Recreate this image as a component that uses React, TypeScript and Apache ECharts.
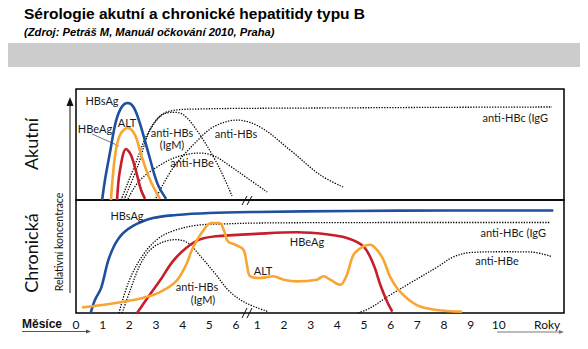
import React, { useEffect, useRef } from 'react';
import * as echarts from 'echarts';

// x positions: months 0..6 then years 1..10 (compressed scale after the break)
const tickPositions = [0, 1, 2, 3, 4, 5, 6, 6.8, 7.8, 8.8, 9.8, 10.8, 11.8, 12.8, 13.8, 14.8, 15.85, 17.67];
const tickLabels = ['0', '1', '2', '3', '4', '5', '6', '1', '2', '3', '4', '5', '6', '7', '8', '9', '10', 'Roky'];

// Acute hepatitis (top panel)
const acuteHBsAg = [[0.98, 0], [1.1, 20], [1.26, 41], [1.5, 71], [1.72, 84], [1.94, 87.4], [2.15, 84], [2.37, 71], [2.73, 41], [3.05, 15], [3.38, 1]];
const acuteALT = [[1.31, 0], [1.47, 41], [1.65, 58.6], [1.94, 65], [2.21, 58.6], [2.44, 41], [2.78, 18], [3.15, 1]];
const acuteHBeAg = [[1.54, 0], [1.65, 27], [1.88, 46], [2.06, 40.5], [2.25, 26], [2.44, 9], [2.59, 1]];
const acuteAntiHBcIgG = [[1.69, 0], [2.21, 31.5], [2.66, 58.6], [3.15, 75.7], [3.71, 81], [4.65, 82], [6, 82.5], [10, 83], [14, 83.5], [17.85, 83.8]];
const acuteAntiHBsIgM = [[1.8, 0], [2.33, 31.5], [2.78, 63], [3.34, 78], [3.71, 79], [4.09, 75.7], [4.65, 58.6], [5.22, 36], [5.59, 18], [5.85, 3.6]];
const acuteAntiHBe = [[1.95, 1], [2.4, 18], [3.26, 33], [3.9, 39.6], [4.65, 42.3], [5.18, 39.6], [5.78, 30.6], [6.42, 19.8], [7.17, 7.2]];
const acuteAntiHBs = [[3.0, 1.8], [3.64, 28.8], [4.65, 55.9], [5.22, 66.7], [6.04, 72], [6.9, 65.8], [8.03, 45], [9.16, 22.5], [10.02, 11.7]];

// Chronic hepatitis (bottom panel)
const chronicHBsAg = [[0.55, 0], [0.71, 11.5], [0.94, 22], [1.24, 48.7], [1.61, 66.4], [2.14, 77], [2.89, 84], [3.75, 86.7], [4.99, 88.5], [6.75, 89.4], [10.28, 90.3], [14.03, 90.7], [17.9, 90.7]];
const chronicALT = [[0.23, 5], [1.25, 8], [1.88, 10.4], [2.5, 13.3], [3.13, 18.3], [3.75, 28], [4.13, 42.7], [4.38, 57.5], [4.75, 72.3], [5.07, 79.6], [5.38, 79.6], [5.56, 72.3], [5.69, 63.5], [5.97, 60.4], [6.28, 56], [6.41, 42.7], [6.53, 32.5], [6.9, 31], [7.4, 32.5], [7.78, 29.5], [8.28, 28], [9.03, 29.5], [9.28, 32.5], [9.53, 29.5], [9.91, 25], [10.16, 33.9], [10.41, 51.6], [10.78, 59], [11.03, 60.4], [11.28, 56], [11.53, 47], [11.78, 32], [12.16, 18.6], [12.78, 7], [13.53, 2.7], [14.47, 1.2]];
const chronicHBeAg = [[2.29, 0], [2.7, 14], [3.13, 28], [3.63, 45.7], [4.13, 57.5], [4.63, 64.9], [5.25, 67.9], [6.75, 70], [8.28, 71.4], [9.53, 69.3], [10.16, 66.4], [10.78, 59], [11.16, 42.7], [11.41, 25], [11.66, 10.4], [11.86, 1.3]];
const chronicAntiHBcIgG = [[1.61, 0], [1.99, 28.3], [2.51, 51.3], [3.11, 66.4], [3.75, 73.5], [4.62, 77.9], [5.52, 78.8], [6.75, 79.6], [10, 80], [14, 80.1], [17.8, 80.1]];
const chronicAntiHBsIgM = [[1.73, 0], [2.03, 20], [2.4, 42.5], [2.78, 55.8], [3.26, 62.8], [3.75, 64.9], [4.2, 62], [4.62, 51.6], [5.25, 33.9], [5.74, 19.5], [6.38, 8.8], [7.2, 1.3]];
const chronicAntiHBe = [[10.58, 0], [11.03, 4.4], [11.78, 15.9], [12.53, 26.5], [13.55, 40.7], [14.15, 49.6], [14.78, 53.5], [16.02, 54.2], [17.04, 54], [17.86, 49.8]];

const BLUE = '#1f4f9e';
const ORANGE = '#f8a531';
const RED = '#c81e2a';
const FONT = 'Lato, "Noto Sans", sans-serif';
const ARIAL = '"Liberation Sans", Arial, sans-serif';

function lineSeries(data: number[][], color: string, grid: number, dotted: boolean) {
  return {
    type: 'line',
    data,
    xAxisIndex: grid,
    yAxisIndex: grid,
    smooth: 0.35,
    showSymbol: false,
    symbol: 'none',
    silent: true,
    lineStyle: dotted
      ? { color: '#000', width: 1.3, type: [1.3, 1.4] }
      : { color, width: 2.6 },
    z: dotted ? 2 : 3,
  };
}

function label(text: string, x: number, y: number, align = 'center', size = 11) {
  return {
    type: 'text',
    x,
    y,
    z: 10,
    style: { text, fontSize: size, fontFamily: FONT, fill: '#1a1a1a', align, verticalAlign: 'middle' },
  };
}

export default function App() {
  const ref = useRef<HTMLDivElement>(null);
  useEffect(() => {
    document.body.style.margin = '0';
    const chart = echarts.init(ref.current!, null, { renderer: 'svg' });
    const gridBase = { left: 76, width: 488, show: true, borderColor: '#000', borderWidth: 1.5, backgroundColor: 'transparent' };
    const option: any = {
      animation: false,
      backgroundColor: '#fff',
      grid: [
        { ...gridBase, top: 89, height: 111 },
        { ...gridBase, top: 200, height: 113 },
      ],
      xAxis: [
        { type: 'value', gridIndex: 0, min: 0, max: 18.3, show: false },
        {
          type: 'value', gridIndex: 1, min: 0, max: 18.3,
          axisLine: { show: false }, axisTick: { show: false }, splitLine: { show: false },
          axisLabel: {
            customValues: tickPositions,
            margin: 5,
            fontSize: 12,
            fontFamily: FONT,
            color: '#111',
            formatter: (v: number) => {
              const i = tickPositions.findIndex((t) => Math.abs(t - v) < 1e-6);
              return i >= 0 ? tickLabels[i] : '';
            },
          },
        },
      ],
      yAxis: [
        { type: 'value', gridIndex: 0, min: 0, max: 100, show: false },
        { type: 'value', gridIndex: 1, min: 0, max: 100, show: false },
      ],
      series: [
        lineSeries(acuteAntiHBcIgG, '', 0, true),
        lineSeries(acuteAntiHBsIgM, '', 0, true),
        lineSeries(acuteAntiHBe, '', 0, true),
        lineSeries(acuteAntiHBs, '', 0, true),
        lineSeries(acuteHBsAg, BLUE, 0, false),
        lineSeries(acuteALT, ORANGE, 0, false),
        lineSeries(acuteHBeAg, RED, 0, false),
        lineSeries(chronicAntiHBcIgG, '', 1, true),
        lineSeries(chronicAntiHBsIgM, '', 1, true),
        lineSeries(chronicAntiHBe, '', 1, true),
        lineSeries(chronicHBsAg, BLUE, 1, false),
        lineSeries(chronicHBeAg, RED, 1, false),
        lineSeries(chronicALT, ORANGE, 1, false),
      ],
      graphic: [
        { type: 'text', x: 24, y: 13, style: { text: 'Sérologie akutní a chronické hepatitidy typu B', fontSize: 15.5, fontWeight: 'bold', fontFamily: ARIAL, fill: '#000', align: 'left', verticalAlign: 'middle' } },
        { type: 'text', x: 24, y: 32, style: { text: '(Zdroj: Petráš M, Manuál očkování 2010, Praha)', fontSize: 11.2, fontWeight: 'bold', fontStyle: 'italic', fontFamily: ARIAL, fill: '#000', align: 'left', verticalAlign: 'middle' } },
        { type: 'rect', shape: { x: 8, y: 43, width: 572, height: 24 }, style: { fill: '#cccccc' } },
        // side titles
        { type: 'text', x: 31, y: 144, rotation: Math.PI / 2, style: { text: 'Akutní', fontSize: 18, fontFamily: FONT, fill: '#111', align: 'center', verticalAlign: 'middle' } },
        { type: 'text', x: 31, y: 253, rotation: Math.PI / 2, style: { text: 'Chronická', fontSize: 18, fontFamily: FONT, fill: '#111', align: 'center', verticalAlign: 'middle' } },
        { type: 'text', x: 59, y: 242, rotation: Math.PI / 2, style: { text: 'Relativní koncentrace', fontSize: 10.5, fontFamily: FONT, fill: '#111', align: 'center', verticalAlign: 'middle' } },
        // vertical arrow
        { type: 'line', shape: { x1: 70, y1: 293, x2: 70, y2: 104 }, style: { stroke: '#111', lineWidth: 1 } },
        { type: 'polygon', shape: { points: [[66.5, 106], [70, 97], [73.5, 106]] }, style: { fill: '#111' } },
        // x axis captions
        { type: 'text', x: 22, y: 324, style: { text: 'Měsíce', fontSize: 12, fontWeight: 'bold', fontFamily: ARIAL, fill: '#111', align: 'left', verticalAlign: 'middle' } },
        { type: 'line', shape: { x1: 22, y1: 331.5, x2: 89, y2: 331.5 }, style: { stroke: '#555', lineWidth: 1 } },
        { type: 'polygon', shape: { points: [[86, 329.5], [91, 331.5], [86, 333.5]] }, style: { fill: '#555' } },
        { type: 'line', shape: { x1: 497, y1: 332, x2: 561, y2: 332 }, style: { stroke: '#bbbbbb', lineWidth: 2 } },
        { type: 'polygon', shape: { points: [[559, 330], [564, 332], [559, 334]] }, style: { fill: '#777' } },
        // axis break marks
        { type: 'line', shape: { x1: 242, y1: 205, x2: 247, y2: 196 }, style: { stroke: '#111', lineWidth: 1 } },
        { type: 'line', shape: { x1: 247, y1: 205, x2: 252, y2: 196 }, style: { stroke: '#111', lineWidth: 1 } },
        { type: 'line', shape: { x1: 242, y1: 318, x2: 247, y2: 308 }, style: { stroke: '#111', lineWidth: 1 } },
        { type: 'line', shape: { x1: 247, y1: 318, x2: 252, y2: 308 }, style: { stroke: '#111', lineWidth: 1 } },
        // HBeAg pointer
        { type: 'line', shape: { x1: 92, y1: 134, x2: 119, y2: 146 }, style: { stroke: '#555', lineWidth: 0.8 } },
        // top panel labels
        label('HBsAg', 102, 100),
        label('ALT', 127, 122),
        label('HBeAg', 95, 128),
        label('anti-HBs', 172, 132),
        label('(IgM)', 172, 144.5),
        label('anti-HBe', 192, 162),
        label('anti-HBs', 236, 133),
        label('anti-HBc (IgG', 548, 117, 'right'),
        // bottom panel labels
        label('HBsAg', 127, 215),
        label('HBeAg', 307, 241),
        label('ALT', 263, 270),
        label('anti-HBs', 197, 286.5),
        label('(IgM)', 203, 299),
        label('anti-HBc (IgG', 546, 232, 'right'),
        label('anti-HBe', 497, 260),
      ],
    };
    chart.setOption(option);
    return () => chart.dispose();
  }, []);
  return <div ref={ref} style={{ width: 588, height: 349 }} />;
}
